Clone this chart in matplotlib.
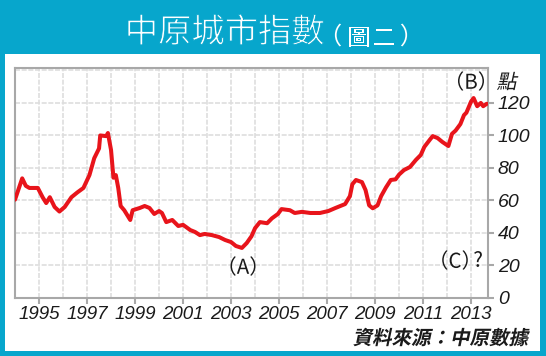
import numpy as np
import matplotlib
matplotlib.use('Agg')
import matplotlib.pyplot as plt
from matplotlib.patches import Rectangle, PathPatch
from matplotlib.textpath import TextPath
from matplotlib.font_manager import FontProperties
from matplotlib.transforms import Affine2D

plt.rcParams['font.family'] = ['Liberation Sans', 'Noto Sans CJK TC', 'DejaVu Sans']

# Centa-City index (decimal year, index points)
years = [1994.0, 1994.3, 1994.45, 1994.6, 1994.95, 1995.15, 1995.3, 1995.45,
         1995.65, 1995.85, 1996.07, 1996.35, 1996.6, 1996.85, 1997.1, 1997.3,
         1997.5, 1997.55, 1997.8, 1997.87, 1998.0, 1998.1, 1998.2, 1998.3,
         1998.4, 1998.55, 1998.8, 1998.9, 1999.2, 1999.4, 1999.6, 1999.8,
         2000.0, 2000.12, 2000.3, 2000.55, 2000.8, 2001.0, 2001.3, 2001.5,
         2001.7, 2001.9, 2002.2, 2002.5, 2002.75, 2003.0, 2003.2, 2003.45,
         2003.65, 2003.85, 2004.0, 2004.2, 2004.5, 2004.7, 2004.95, 2005.1,
         2005.45, 2005.65, 2005.95, 2006.3, 2006.7, 2007.05, 2007.35, 2007.75,
         2007.95, 2008.05, 2008.2, 2008.45, 2008.6, 2008.75, 2008.9, 2009.1,
         2009.25, 2009.45, 2009.65, 2009.85, 2010.0, 2010.2, 2010.45, 2010.7,
         2010.9, 2011.05, 2011.3, 2011.4, 2011.6, 2011.8, 2012.05, 2012.2,
         2012.35, 2012.55, 2012.7, 2012.8, 2013.0, 2013.1, 2013.25, 2013.4,
         2013.5, 2013.65]
index_vals = [60.5, 73.6, 69, 67.7, 67.7, 62, 58.4, 62,
              56, 53.2, 56, 62, 65, 67.7, 75.6, 86,
              92, 100, 99.6, 101.5, 91, 74, 75.6, 67.7,
              56.6, 54, 48, 54, 55.4, 56.6, 55.4, 51.7,
              53.5, 52.3, 46.7, 48, 44.3, 45, 41.8, 40.6,
              38.7, 39.4, 38.7, 37.5, 35.7, 34.4, 32, 30.8,
              33.8, 38, 43, 46.7, 46, 49, 51.7, 54.7,
              54, 52.3, 53, 52.3, 52.3, 53.5, 55.4, 57.8,
              62.7, 70, 72.6, 71.3, 66.4, 57, 55.2, 57,
              62.7, 68, 72.6, 73, 76, 78.7, 80.6, 85,
              88, 93, 97.8, 99.6, 98.4, 96, 93.5, 101,
              103, 107, 112.5, 114, 121, 123, 118, 120,
              118, 119.5]

year_ticks = [1995, 1997, 1999, 2001, 2003, 2005, 2007, 2009, 2011, 2013]
y_ticks = [0, 20, 40, 60, 80, 100, 120]

W, H = 546, 356
blue = '#07A6CC'
red = '#E8141B'
ink = '#1a1a1a'

fig = plt.figure(figsize=(W / 100, H / 100), dpi=100, facecolor=blue)
fig.patches.append(Rectangle((5/W, 1-351/H), 535/W, 297/H,
                             transform=fig.transFigure, facecolor='white',
                             edgecolor='none', zorder=-5))


def path_text(s, x, y, size, ha='left', skew=0, weight='normal',
              color=ink, edge=None, edge_w=0):
    """Draw text as an outline at pixel position (x from left, y from top,
    y = vertical centre). Lets us slant / thin the CJK glyphs."""
    tp = TextPath((0, 0), s, size=size,
                  prop=FontProperties(family='Noto Sans CJK TC', weight=weight))
    bb = tp.get_extents()
    t = Affine2D().translate(0, -(bb.y0 + bb.y1) / 2).skew_deg(skew, 0)
    bb2 = t.transform_path(tp).get_extents()
    dx = {'left': -bb2.x0, 'right': -bb2.x1, 'center': -(bb2.x0 + bb2.x1) / 2}[ha]
    t = t.translate(x + dx, H - y)
    fig.patches.append(PathPatch(tp, transform=t + Affine2D().scale(1/W, 1/H)
                                 + fig.transFigure, facecolor=color,
                                 edgecolor=edge if edge else 'none',
                                 linewidth=edge_w, zorder=3))


ax = fig.add_axes([15/W, 1-298/H, 473/W, 230/H], zorder=2)
ax.set_facecolor('white')

# light grid every year / every 20 points
for yr in range(1995, 2014):
    ax.axvline(yr, color='#dedede', lw=1.2, ls=(0, (3, 1)), zorder=1)
for v in range(20, 141, 20):
    ax.axhline(v, color='#dedede', lw=1.2, ls=(0, (3, 1)), zorder=1)

ax.plot(years, index_vals, color=red, lw=2.9, solid_joinstyle='round',
        solid_capstyle='round', zorder=3)

ax.set_xlim(1994.0, 2013.7)
ax.set_ylim(0, 141.5)

for s in ax.spines.values():
    s.set_color('#a8a8a8')
    s.set_linewidth(1.5)

ax.set_xticks(year_ticks)
ax.set_xticklabels([str(y) for y in year_ticks], fontsize=13.5, style='italic')
ax.yaxis.tick_right()
ax.set_yticks(y_ticks)
ax.set_yticklabels([str(v) for v in y_ticks], fontsize=14, style='italic')
ax.tick_params(axis='both', colors='#a8a8a8', length=4, width=1.5, pad=2,
               labelcolor=ink)
ax.tick_params(axis='y', pad=3)

# point labels on the curve
path_text('（B）', 471, 81, 20.5, ha='center')
path_text('（A）', 243, 266, 20.5, ha='center')
path_text('（C）', 455, 260, 20.5, ha='center')
path_text('?', 478, 259, 20.5, ha='center')

# unit label, slanted
path_text('點', 497, 81, 20, skew=12)

# title in the blue band, thinned with a blue edge
path_text('中原城市指數', 128, 29.5, 33.3, color='white', edge=blue, edge_w=0.6)
path_text('（', 338, 35, 24, ha='center', color='white')
path_text('圖', 359, 37, 23, ha='center', color='white')
path_text('二', 384, 37, 23, ha='center', color='white')
path_text('）', 404, 35, 24, ha='center', color='white')

# slanted source note
path_text('資料來源：中原數據', 530, 337, 19.5, ha='right', skew=12, weight='bold')

fig.savefig('out.png', dpi=100, facecolor=blue)
